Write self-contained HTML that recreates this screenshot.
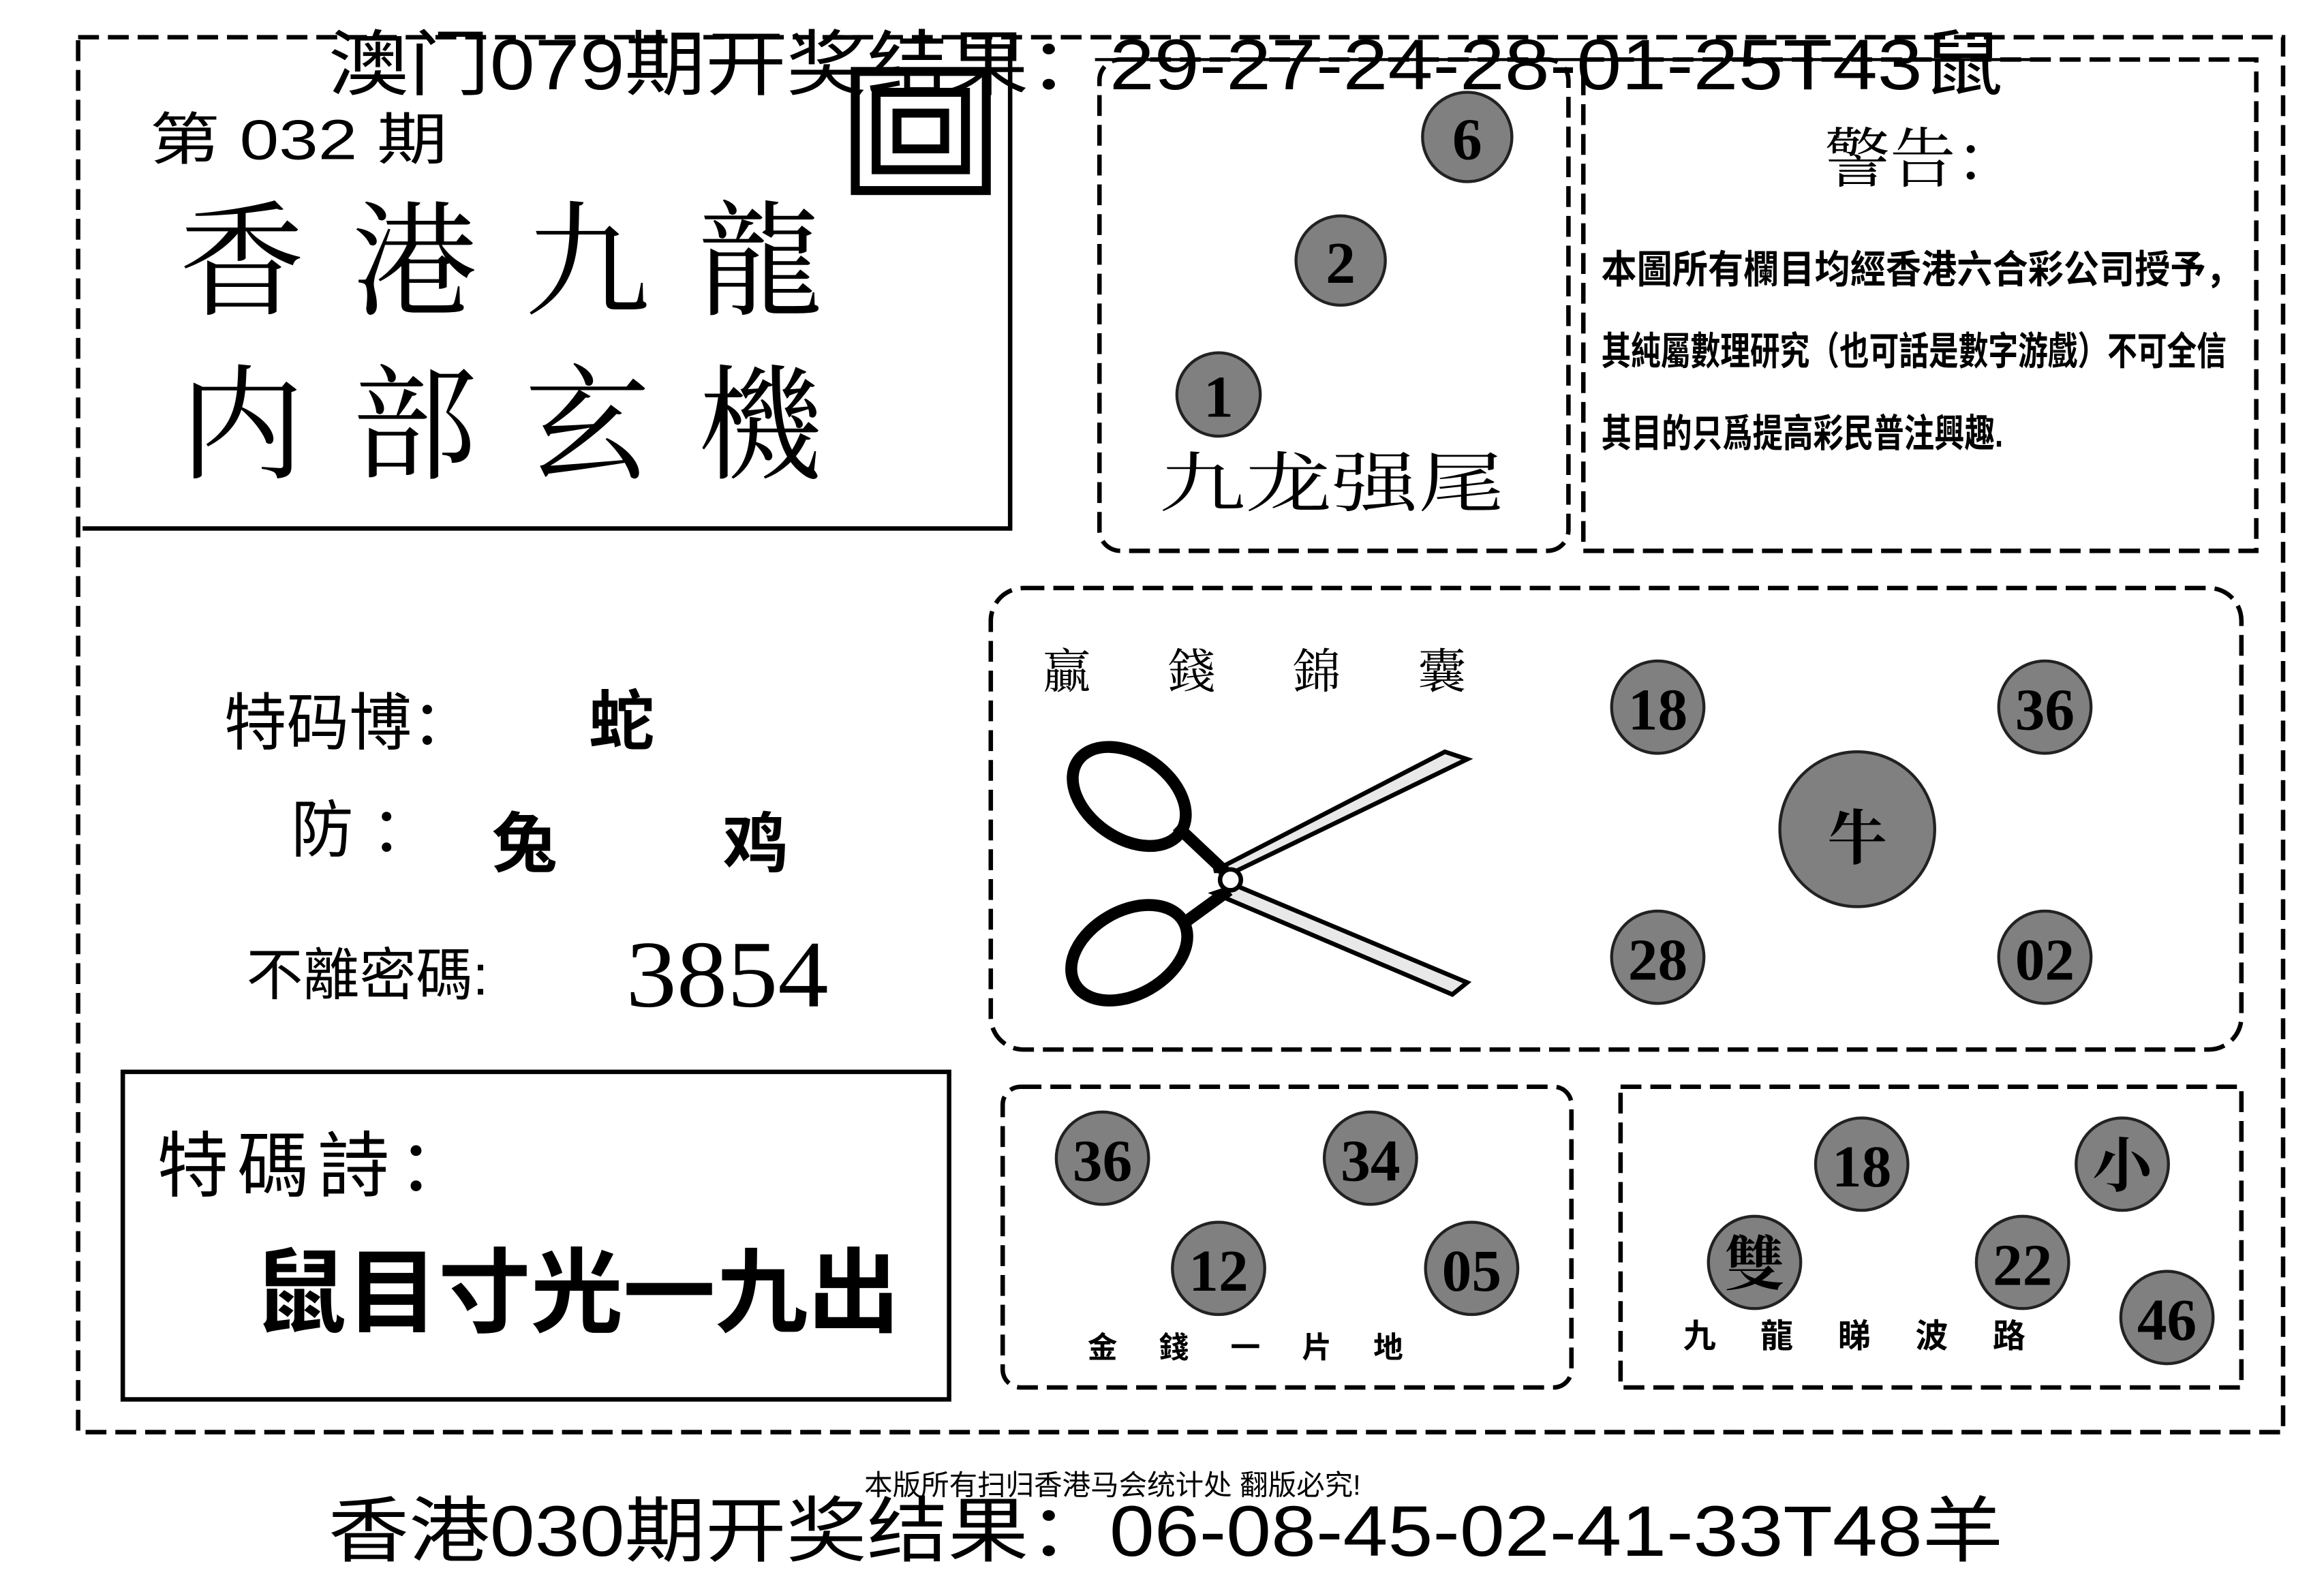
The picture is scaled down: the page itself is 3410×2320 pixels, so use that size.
<!DOCTYPE html>
<html><head><meta charset="utf-8">
<style>
html,body{margin:0;padding:0;background:#fff;}
svg{display:block;}
text{font-family:"Liberation Sans","Noto Sans CJK SC",sans-serif;fill:#000;}
.s{font-family:"Liberation Serif","Noto Serif CJK SC",serif;}
.b{fill:#808080;stroke:#222;stroke-width:2;}
.n{font-family:"Liberation Serif","Noto Serif CJK SC",serif;font-weight:bold;font-size:40px;text-anchor:middle;}
</style></head>
<body>
<svg width="3410" height="2320" viewBox="0 0 1560 1062" xmlns="http://www.w3.org/2000/svg">
<rect width="1560" height="1062" fill="#fff"/>
<rect x="52" y="25" width="1481" height="937" fill="none" stroke="#000" stroke-width="3" stroke-dasharray="14,6"/>
<text x="220" y="60" font-size="48" textLength="1125" lengthAdjust="spacingAndGlyphs">澳门079期开奖结果：29-27-24-28-01-25T43鼠</text>
<line x1="735" y1="40" x2="1370" y2="40" stroke="#000" stroke-width="2"/>
<polyline points="55,355 678,355 678,30" fill="none" stroke="#000" stroke-width="3"/>
<text x="100" y="107" font-size="38" textLength="200" lengthAdjust="spacingAndGlyphs">第 032 期</text>
<text x="120" y="205" font-size="84" letter-spacing="32" class="s">香港九龍</text>
<text x="120" y="315" font-size="84" letter-spacing="32" class="s">内部玄機</text>
<g fill="none" stroke="#000" stroke-width="6">
<rect x="574" y="48" width="88" height="80"/>
<rect x="588" y="62" width="60" height="52"/>
<rect x="602" y="76" width="32" height="24"/>
</g>
<rect x="738" y="40" width="315" height="330" rx="14" fill="none" stroke="#000" stroke-width="3" stroke-dasharray="14,6"/>
<circle cx="985" cy="92" r="30" class="b"/><text x="985" y="107" class="n">6</text>
<circle cx="900" cy="175" r="30" class="b"/><text x="900" y="190" class="n">2</text>
<circle cx="818" cy="265" r="28" class="b"/><text x="818" y="280" class="n">1</text>
<text x="778" y="340" font-size="44" class="s" textLength="232" lengthAdjust="spacingAndGlyphs">九龙强尾</text>
<rect x="1063" y="40" width="452" height="330" fill="none" stroke="#000" stroke-width="3" stroke-dasharray="14,6"/>
<text x="1225" y="122" font-size="44" class="s">警告：</text>
<g font-size="26" font-weight="bold" class="s">
<text x="1075" y="190" textLength="430" lengthAdjust="spacingAndGlyphs">本圖所有欄目均經香港六合彩公司授予，</text>
<text x="1075" y="245" textLength="420" lengthAdjust="spacingAndGlyphs">其純屬數理研究（也可話是數字游戲）不可全信</text>
<text x="1075" y="300" textLength="270" lengthAdjust="spacingAndGlyphs">其目的只爲提高彩民普注興趣.</text>
</g>
<text x="150" y="500" font-size="42">特码博：</text>
<text x="395" y="500" font-size="44" font-weight="bold">蛇</text>
<text x="195" y="572" font-size="42">防 ：</text>
<text x="330" y="582" font-size="44" font-weight="bold">兔</text>
<text x="485" y="582" font-size="44" font-weight="bold">鸡</text>
<text x="165" y="668" font-size="38">不離密碼:</text>
<text x="420" y="676" font-size="64" class="s" textLength="136" lengthAdjust="spacingAndGlyphs">3854</text>
<rect x="665" y="395" width="840" height="310" rx="22" fill="none" stroke="#000" stroke-width="3" stroke-dasharray="14,6"/>
<text x="700" y="462" font-size="32" class="s" letter-spacing="52">贏錢錦囊</text>
<g stroke="#000" stroke-width="3" fill="#e8e8e8">
<polygon points="830,585 985,510 970,505 815,585"/>
<polygon points="830,595 985,660 975,668 815,600"/>
<ellipse cx="758" cy="535" rx="42" ry="28" transform="rotate(35 758 535)" fill="none" stroke-width="8"/>
<ellipse cx="758" cy="640" rx="42" ry="28" transform="rotate(-30 758 640)" fill="none" stroke-width="8"/>
<line x1="790" y1="555" x2="825" y2="588" stroke-width="8"/>
<line x1="792" y1="622" x2="825" y2="598" stroke-width="8"/>
<circle cx="826" cy="591" r="7" fill="#fff"/>
</g>
<circle cx="1113" cy="475" r="31" class="b"/><text x="1113" y="490" class="n">18</text>
<circle cx="1373" cy="475" r="31" class="b"/><text x="1373" y="490" class="n">36</text>
<circle cx="1247" cy="557" r="52" class="b"/><text x="1247" y="577" class="n" font-size="56">牛</text>
<circle cx="1113" cy="643" r="31" class="b"/><text x="1113" y="658" class="n">28</text>
<circle cx="1373" cy="643" r="31" class="b"/><text x="1373" y="658" class="n">02</text>
<rect x="82" y="720" width="555" height="220" fill="none" stroke="#000" stroke-width="3"/>
<text x="105" y="800" font-size="48" letter-spacing="6">特碼詩：</text>
<text x="170" y="890" font-size="62" font-weight="bold">鼠目寸光一九出</text>
<rect x="673" y="730" width="382" height="202" rx="12" fill="none" stroke="#000" stroke-width="3" stroke-dasharray="14,6"/>
<circle cx="740" cy="778" r="31" class="b"/><text x="740" y="793" class="n">36</text>
<circle cx="920" cy="778" r="31" class="b"/><text x="920" y="793" class="n">34</text>
<circle cx="818" cy="852" r="31" class="b"/><text x="818" y="867" class="n">12</text>
<circle cx="988" cy="852" r="31" class="b"/><text x="988" y="867" class="n">05</text>
<text x="730" y="912" font-size="20" font-weight="bold" letter-spacing="28">金錢一片地</text>
<rect x="1088" y="730" width="417" height="202" fill="none" stroke="#000" stroke-width="3" stroke-dasharray="14,6"/>
<circle cx="1250" cy="782" r="31" class="b"/><text x="1250" y="797" class="n">18</text>
<circle cx="1425" cy="782" r="31" class="b"/><text x="1425" y="797" class="n">小</text>
<circle cx="1178" cy="848" r="31" class="b"/><text x="1178" y="863" class="n">雙</text>
<circle cx="1358" cy="848" r="31" class="b"/><text x="1358" y="863" class="n">22</text>
<circle cx="1455" cy="885" r="31" class="b"/><text x="1455" y="900" class="n">46</text>
<text x="1130" y="905" font-size="22" font-weight="bold" letter-spacing="30">九龍睇波路</text>
<text x="580" y="1004" font-size="19">本版所有扫归香港马会统计处 翻版必究!</text>
<text x="220" y="1045" font-size="48" textLength="1125" lengthAdjust="spacingAndGlyphs">香港030期开奖结果：06-08-45-02-41-33T48羊</text>
</svg>
</body></html>
